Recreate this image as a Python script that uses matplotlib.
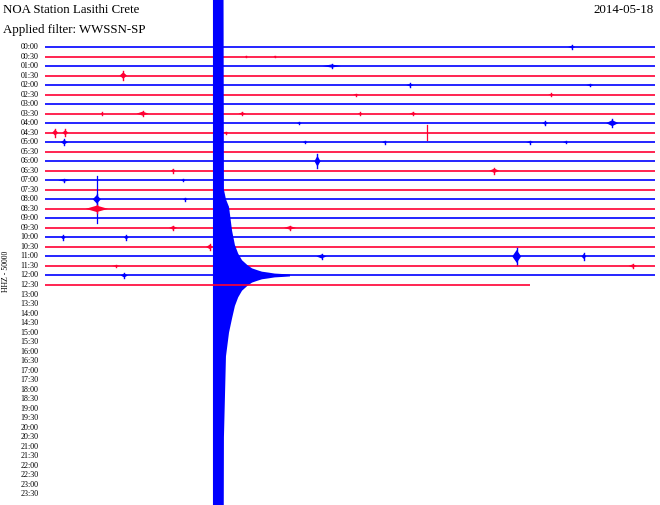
import matplotlib
matplotlib.use("Agg")
import matplotlib.pyplot as plt
import numpy as np

# ---------------- data ----------------
title = "NOA Station Lasithi Crete"
subtitle = "Applied filter: WWSSN-SP"
date_label = "2014-05-18"
channel_label = "HHZ - 50000"

row_labels = [f"{h:02d}:{m:02d}" for h in range(24) for m in (0, 30)]
row_minutes = 30.0                      # each helicorder line spans 30 minutes
last_row = 25                           # 12:30 line is the last recorded
last_row_end = 23.85                    # minute where the recording stops

# small events: (row, minute, amplitude in rows, half-width in minutes)
event_rows = [0, 1, 1, 2, 3, 4, 4, 5, 5, 7, 7, 7, 7, 7, 8, 8, 8, 9, 9, 9,
              10, 10, 10, 10, 10, 12, 13, 13, 14, 14, 16, 16, 17, 19, 19,
              20, 20, 21, 22, 22, 22, 23, 23, 24]
event_minutes = [25.9, 9.9, 11.3, 14.1, 3.85, 17.95, 26.8, 15.3, 24.9, 2.8,
                 4.8, 9.7, 15.5, 18.1, 12.5, 24.6, 27.9, 0.5, 1.0, 8.9,
                 0.95, 12.8, 16.7, 23.85, 25.6, 13.4, 22.1, 6.3, 0.95, 6.8,
                 2.55, 6.9, 2.55, 6.3, 12.05, 0.9, 4.0, 8.1, 13.6, 23.2,
                 26.5, 3.5, 28.9, 3.9]
event_amps = [0.18, 0.1, 0.1, 0.22, 0.45, 0.18, 0.14, 0.1, 0.12, 0.12,
              0.28, 0.18, 0.12, 0.18, 0.12, 0.22, 0.42, 0.42, 0.35, 0.12,
              0.32, 0.12, 0.15, 0.15, 0.12, 0.75, 0.3, 0.22, 0.18, 0.12,
              0.6, 0.15, 0.45, 0.25, 0.25, 0.28, 0.28, 0.3, 0.28, 0.9,
              0.35, 0.12, 0.22, 0.28]
event_widths = [0.18, 0.06, 0.06, 0.45, 0.18, 0.18, 0.18, 0.15, 0.15, 0.06,
                0.3, 0.18, 0.12, 0.18, 0.12, 0.15, 0.3, 0.15, 0.15, 0.12,
                0.18, 0.12, 0.12, 0.18, 0.12, 0.15, 0.25, 0.12, 0.3, 0.12,
                0.2, 0.12, 0.55, 0.2, 0.3, 0.12, 0.12, 0.18, 0.25, 0.22,
                0.12, 0.2, 0.2, 0.18]

# thin spikes: (row, minute, amplitude in rows)
spike_rows = [9, 16]
spike_minutes = [18.8, 2.55]
spike_amps = [0.8, 2.5]

# main earthquake on the 12:00 line: envelope (minute, up amp, down amp) in rows
quake_row = 24
quake_minutes = [8.26, 8.75, 8.80, 8.9, 9.05, 9.2, 9.34, 9.5, 9.69, 9.95,
                 10.18, 10.45, 10.67, 11.0, 11.3, 11.7, 12.05]
quake_up = [60, 60, 9.0, 8.0, 7.2, 4.7, 3.2, 2.3, 1.6, 1.1,
            0.75, 0.55, 0.4, 0.3, 0.2, 0.15, 0.1]
quake_down = [60, 60, 17.0, 8.5, 6.0, 4.5, 3.2, 2.3, 1.6, 1.1,
              0.75, 0.55, 0.4, 0.3, 0.2, 0.15, 0.1]

# ---------------- layout ----------------
W, H = 660, 505
X0_PX, X1_PX = 45, 655
Y0_PX, DY_PX = 47, 9.52
ppm = (X1_PX - X0_PX) / row_minutes

BLUE = "#0000ff"
RED = "#ff0033"

fig = plt.figure(figsize=(W / 100, H / 100), dpi=100)
ax = fig.add_axes([0, 0, 1, 1])
ax.set_xlim(-X0_PX / ppm, (W - X0_PX) / ppm)
ax.set_ylim((H - Y0_PX) / DY_PX, -Y0_PX / DY_PX)
ax.axis("off")

def row_color(r):
    return BLUE if r % 2 == 0 else RED

for r in range(last_row + 1):
    c = row_color(r)
    xend = last_row_end if r == last_row else row_minutes
    ax.plot([0, xend], [r, r], color=c, lw=1.2, solid_capstyle="butt", zorder=2 + r)
    for er, em, ea, ew in zip(event_rows, event_minutes, event_amps, event_widths):
        if er == r:
            core = ea * 0.75
            ax.fill([em - ew, em, em + ew, em], [r, r - core, r, r + core],
                    color=c, lw=0, zorder=2 + r)
            ax.plot([em, em], [r - ea, r + ea], color=c, lw=1.0, zorder=2 + r)
    for sr, sm, sa in zip(spike_rows, spike_minutes, spike_amps):
        if sr == r:
            ax.plot([sm, sm], [r - sa, r + sa], color=c, lw=0.9, zorder=2 + r)
    if r == quake_row:
        qm = np.array(quake_minutes)
        ax.fill_between(qm, r - np.array(quake_up), r + np.array(quake_down),
                        color=BLUE, lw=0, zorder=2 + r)

# row time labels
for r, lab in enumerate(row_labels):
    ax.text(-0.32, r, lab, ha="right", va="center", fontsize=5.8,
            family="Liberation Serif", color="black")

fig.text(3 / W, 1 - 10 / H, title, ha="left", va="center",
         fontsize=9.3, family="Liberation Serif")
fig.text(3 / W, 1 - 30 / H, subtitle, ha="left", va="center",
         fontsize=9.3, family="Liberation Serif")
fig.text(654 / W, 1 - 10 / H, date_label, ha="right", va="center",
         fontsize=9.3, family="Liberation Serif")
fig.text(6 / W, 1 - 271 / H, channel_label, ha="center", va="center",
         rotation=90, fontsize=5.6, family="Liberation Serif")

fig.savefig("out.png", dpi=100)
